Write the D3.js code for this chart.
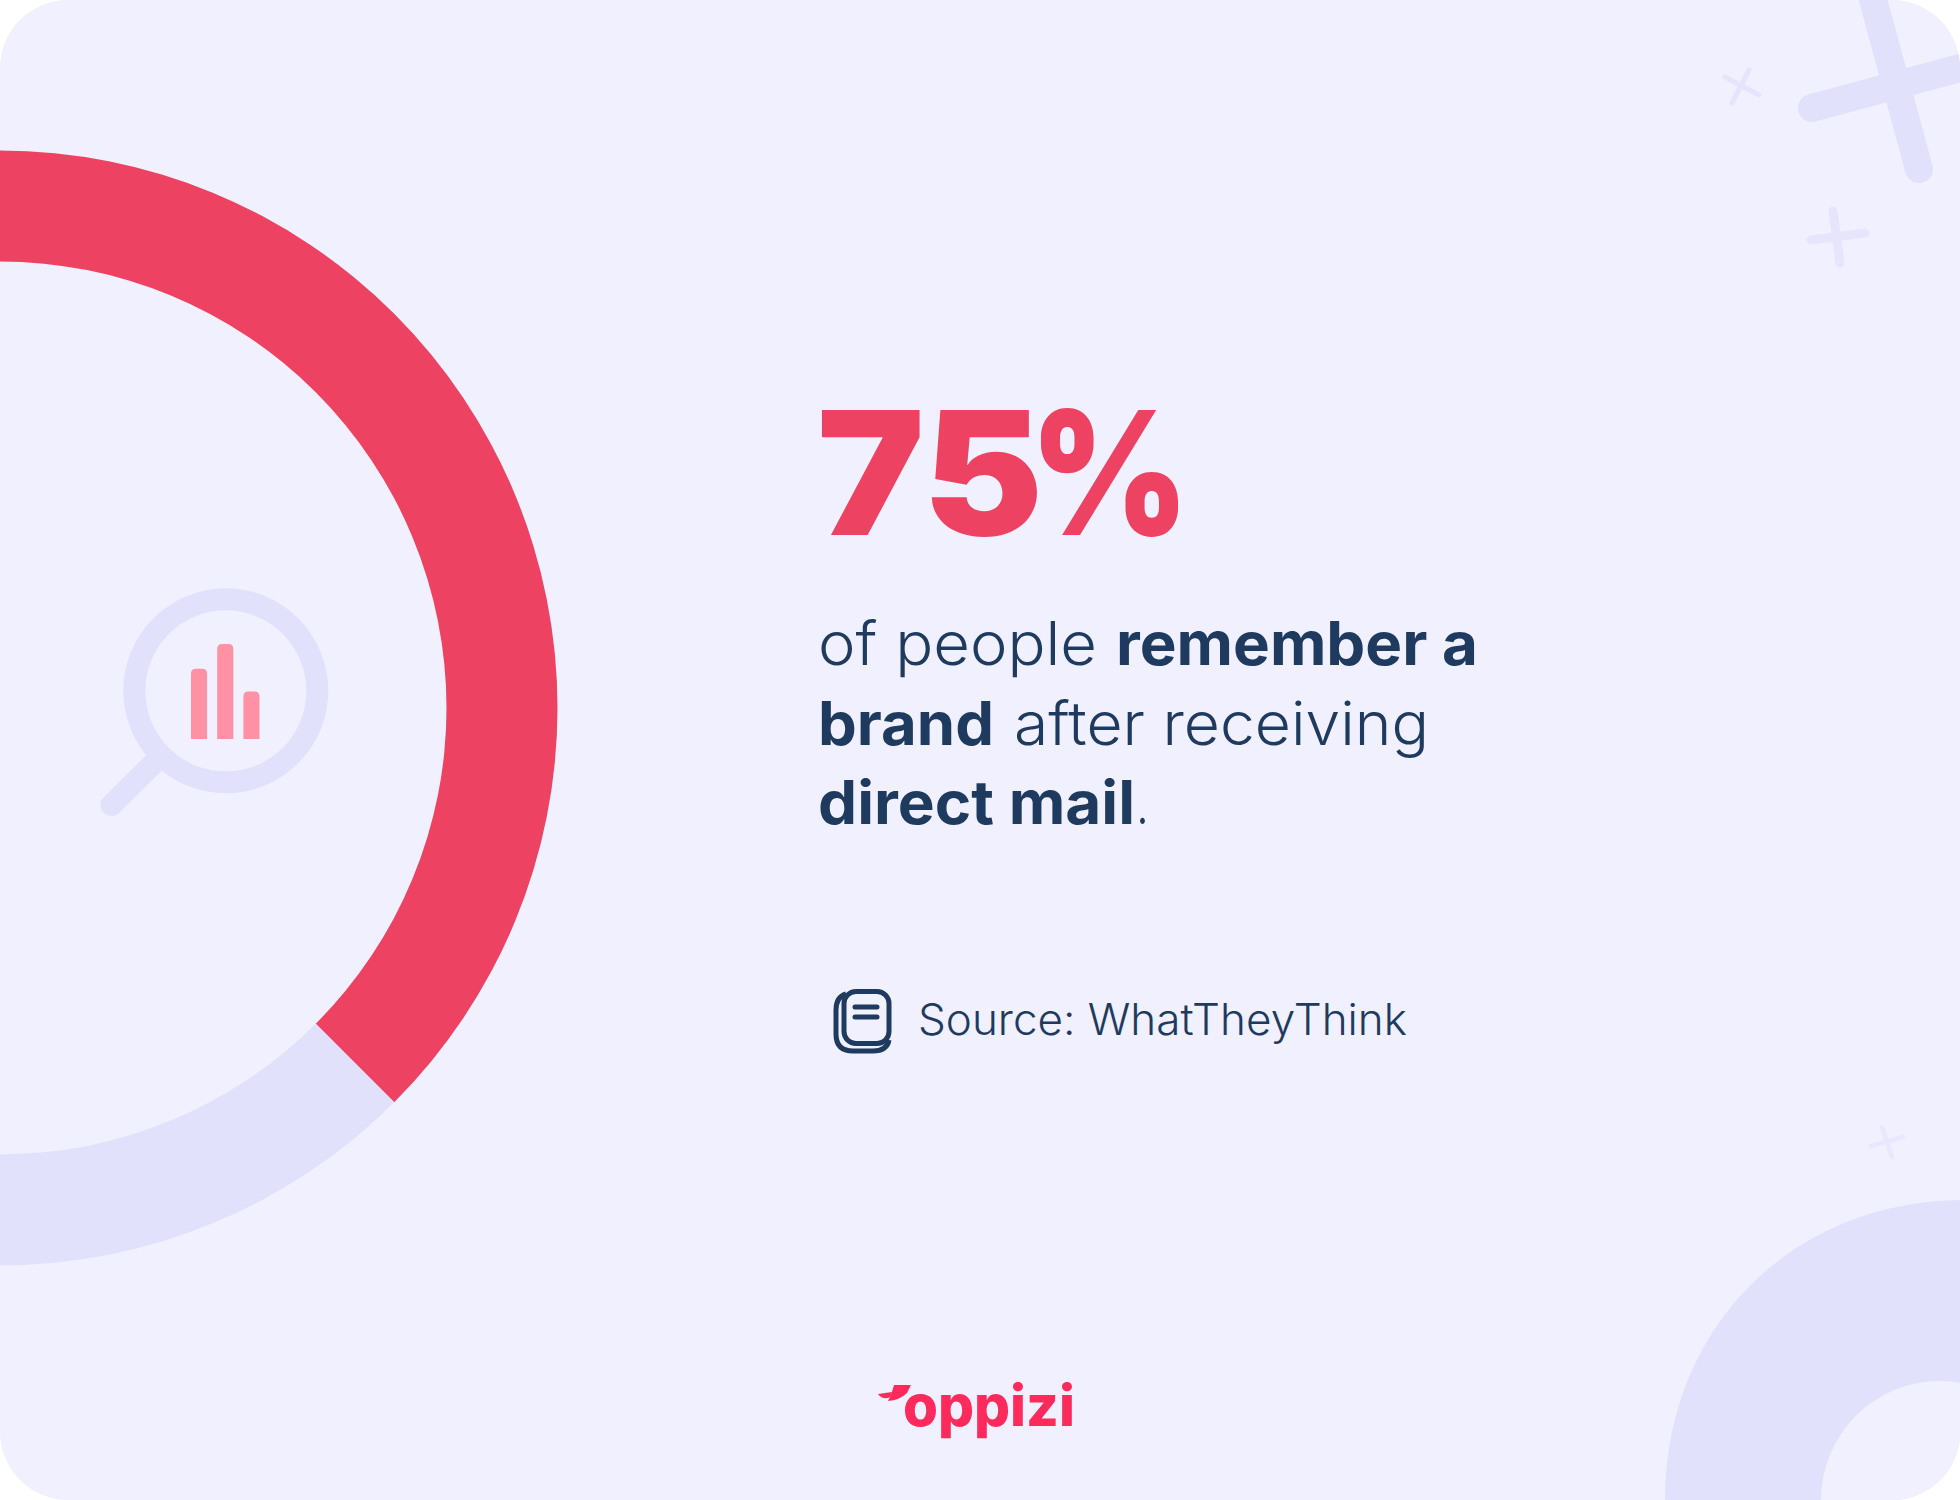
<!DOCTYPE html>
<html>
<head>
<meta charset="utf-8">
<script src="https://cdn.jsdelivr.net/npm/d3@7"></script>
<style>
html, body { margin: 0; background: #fff; }
svg { display: block; }
</style>
</head>
<body>
<div id="graphic"></div>
<script>
var ringValues = [75, 25];
var ringColors = ["#EE4262", "#E2E1FC"];
var barNames = ["a", "b", "c"];
var barValues = [74, 100, 50];
var headlineDigits = "75";
var headlineSign = "%";
var sourceText = "Source: WhatTheyThink";
var logoText = "oppizi";

var width = 1960, height = 1500;
var navy = "#1F3A5F", pale = "#E2E1FC", paper = "#F0F0FE";

var svg = d3.select("#graphic").append("svg").attr("width", width).attr("height", height);

svg.append("clipPath").attr("id", "card").append("rect")
  .attr("width", width).attr("height", height).attr("rx", 68).attr("ry", 68);

var card = svg.append("g").attr("clip-path", "url(#card)");
card.append("rect").attr("width", width).attr("height", height).attr("fill", paper);

// the ring: 75% is centred on the right, so the cut falls at +/-135 degrees
var pie = d3.pie().sort(null)
  .startAngle(-Math.PI * 3 / 4)
  .endAngle(Math.PI * 5 / 4);
var arc = d3.arc().innerRadius(446.5).outerRadius(557.5);

card.append("g").attr("transform", "translate(0,708)")
  .selectAll("path").data(pie(ringValues)).enter().append("path")
  .attr("d", arc)
  .attr("fill", function(d, i) { return ringColors[i]; });

// magnifier icon with its small bars
card.append("circle").attr("cx", 225.8).attr("cy", 690.8).attr("r", 91.5)
  .attr("fill", "none").attr("stroke", pale).attr("stroke-width", 22);
card.append("path").attr("d", "M155,762L111.5,805")
  .attr("fill", "none").attr("stroke", pale).attr("stroke-width", 22).attr("stroke-linecap", "round");

var xBar = d3.scaleBand().domain(barNames).range([191, 259.5]).paddingInner(0.385);
var yBar = d3.scaleLinear().domain([0, 100]).range([739, 644]);

card.append("g").selectAll("path").data(barValues).enter().append("path")
  .attr("fill", "#FF91A4")
  .attr("d", function(d, i) {
    var x = xBar(barNames[i]), w = xBar.bandwidth(), r = 5;
    return "M" + x + "," + yBar(0) + "V" + (yBar(d) + r) +
      "Q" + x + "," + yBar(d) + " " + (x + r) + "," + yBar(d) +
      "H" + (x + w - r) + "Q" + (x + w) + "," + yBar(d) + " " + (x + w) + "," + (yBar(d) + r) +
      "V" + yBar(0) + "Z";
  });

// crosses in the top right and above the corner shape
function cross(a, b, w, color) {
  [a, b].forEach(function(p) {
    card.append("line")
      .attr("x1", p[0]).attr("y1", p[1]).attr("x2", p[2]).attr("y2", p[3])
      .attr("stroke", color).attr("stroke-width", w).attr("stroke-linecap", "round");
  });
}
cross([1812, 108, 1990, 60], [1865, -30, 1919, 169], 28, pale);
cross([1725, 77, 1759, 95], [1749, 70, 1732, 103], 5, "#E5E4FC");
cross([1811, 240, 1865, 233], [1833, 211, 1840, 263], 9, "#E6E5FC");
cross([1871, 1146, 1903, 1137], [1882, 1127, 1892, 1157], 4.5, "#E8E7FD");

// big shape in the bottom right corner, the hole is not concentric
card.append("path").attr("fill", pale)
  .attr("d", "M1665,1500C1665,1330 1790,1200 1965,1200V1500Z");
card.append("circle").attr("cx", 1940).attr("cy", 1500).attr("r", 119).attr("fill", paper);

// text pieces are fitted to the measured width
function run(str, x, y, w, size, weight, color) {
  return card.append("text").text(str)
    .attr("x", x).attr("y", y)
    .attr("textLength", w).attr("lengthAdjust", "spacingAndGlyphs")
    .style("font-family", "'Inter'")
    .style("font-size", size + "px").style("font-weight", weight).attr("fill", color);
}

// digits are wider than Inter's, so each part gets its own span
var big = card.append("text").attr("y", 535)
  .style("font-family", "'Inter'").style("font-size", "172px").style("font-weight", 900)
  .attr("fill", "#EE4262");
big.append("tspan").text(headlineDigits).attr("x", 817)
  .attr("textLength", 226).attr("lengthAdjust", "spacingAndGlyphs");
big.append("tspan").text(headlineSign).attr("x", 1030)
  .attr("textLength", 159).attr("lengthAdjust", "spacingAndGlyphs");

run("of people", 818, 665, 279, 60, 350, navy);
run("remember a", 1116, 665, 362, 60, 700, navy);
run("brand", 818, 745, 176, 60, 700, navy);
run("after receiving", 1014, 745, 415, 60, 350, navy);
run("direct mail", 818, 824, 317, 60, 700, navy);
run(".", 1136, 824, 13, 60, 350, navy);

run(sourceText, 918, 1035, 489, 43, 350, navy);

// source icon: two stacked pages
var icon = card.append("g").attr("fill", "none").attr("stroke", navy).attr("stroke-width", 5);
icon.append("path").attr("d", "M846,994Q836,997 836,1010V1034Q836,1051 853,1051H873Q887,1051 889,1040");
icon.append("rect").attr("x", 844).attr("y", 991.5).attr("width", 45).attr("height", 52).attr("rx", 12);
icon.append("path").attr("stroke-linecap", "round").attr("d", "M855,1007H877M855,1017H877");

// logo
var logoRed = "#FF2A5C";
run(logoText, 903, 1426, 172, 57, 850, logoRed);
card.append("path").attr("fill", logoRed)
  .attr("d", "M894,1385L911,1385L907,1393Q900,1400 888,1401Q892,1394 894,1385Z");
card.append("path").attr("fill", logoRed)
  .attr("d", "M878,1394L892,1392Q891,1397 888,1398Q881,1399 878,1394Z");
</script>
</body>
</html>
